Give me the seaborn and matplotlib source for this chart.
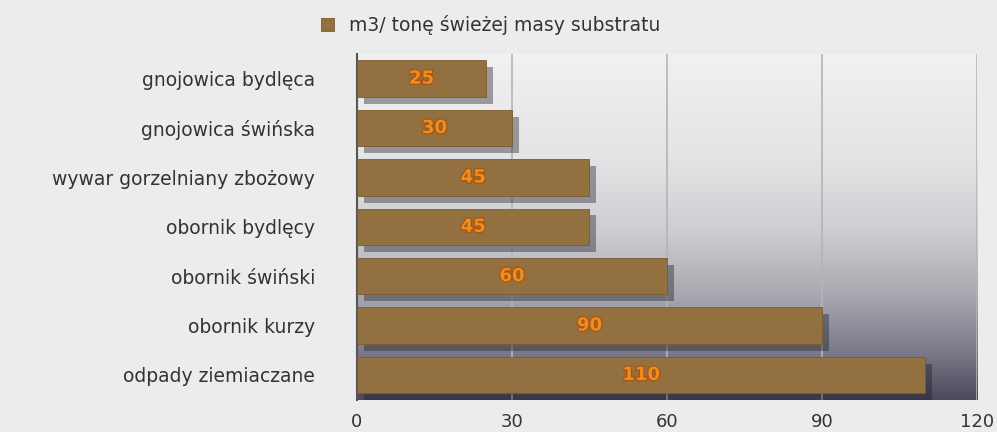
import numpy as np
import pandas as pd
import matplotlib
matplotlib.use("Agg")
import matplotlib.pyplot as plt
import matplotlib.patheffects as pe
from matplotlib.colors import LinearSegmentedColormap
import seaborn as sns

categories = ["gnojowica bydlęca", "gnojowica świńska", "wywar gorzelniany zbożowy",
              "obornik bydlęcy", "obornik świński", "obornik kurzy", "odpady ziemiaczane"]
values = [25, 30, 45, 45, 60, 90, 110]
series_name = "m3/ tonę świeżej masy substratu"
x_ticks = [0, 30, 60, 90, 120]

sns.set_theme(style="white")
plt.rcParams["font.family"] = ["DejaVu Sans"]

df = pd.DataFrame({"kategoria": categories, "wartosc": values, "seria": series_name})

fig = plt.figure(figsize=(9.97, 4.32), dpi=100, facecolor="#ececec")
ax = fig.add_axes([0.358, 0.075, 0.622, 0.80])

# gradient background (light at top, dark slate at bottom)
grad = np.linspace(0, 1, 256).reshape(-1, 1)
bg_cmap = LinearSegmentedColormap.from_list(
    "bg", [(0.0, "#f1f1f1"), (0.3, "#e4e4e6"), (0.5, "#cfcfd3"),
           (0.7, "#a8a8b0"), (0.85, "#7e7e8c"), (1.0, "#4a4a5c")])
ax.imshow(grad, aspect="auto", cmap=bg_cmap, extent=(0, 1, 0, 1),
          transform=ax.transAxes, zorder=0)

sns.barplot(data=df, y="kategoria", x="wartosc", hue="seria", orient="h",
            palette=["#93703f"], saturation=1, width=0.74, ax=ax, zorder=3,
            legend=True, edgecolor="#7a5a33", linewidth=0.6)

for p in ax.patches:
    p.set_path_effects([pe.SimplePatchShadow(offset=(5, -5), shadow_rgbFace="#1e1e28", alpha=0.4),
                        pe.Normal()])

for cont in ax.containers:
    labels = ax.bar_label(cont, labels=[str(v) for v in values], label_type="center",
                          color="#f28c1c", fontsize=13, fontweight="bold", zorder=5)
    for t in labels:
        t.set_path_effects([pe.withStroke(linewidth=2, foreground="#a4581a")])

ax.set_xlim(0, 120)
ax.set_xticks(x_ticks)
ax.set_xticklabels([str(t) for t in x_ticks], fontsize=13, color="#333333")
ax.tick_params(axis="y", labelsize=13.5, labelcolor="#333333", length=0, pad=30)
ax.tick_params(axis="x", length=0, pad=10)
ax.set_xlabel("")
ax.set_ylabel("")
ax.xaxis.grid(True, color="#b4b4b8", linewidth=1.2, zorder=1)
ax.set_axisbelow(True)
for s in ["top", "right", "bottom"]:
    ax.spines[s].set_visible(False)
ax.spines["left"].set_color("#555555")
ax.spines["left"].set_linewidth(1.5)

leg = ax.legend(loc="lower left", bbox_to_anchor=(-0.085, 1.005), frameon=False,
                fontsize=13.5, handlelength=0.7, handleheight=0.7, handletextpad=0.8)
for h in leg.legend_handles:
    h.set_path_effects([])
for t in leg.get_texts():
    t.set_color("#333333")

fig.savefig("out.png", dpi=100, facecolor=fig.get_facecolor())
